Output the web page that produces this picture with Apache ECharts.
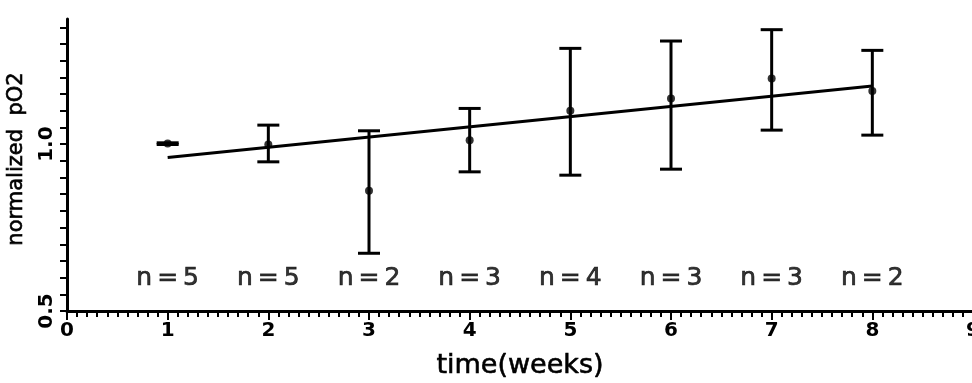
<!DOCTYPE html>
<html>
<head>
<meta charset="utf-8">
<script src="https://cdn.jsdelivr.net/npm/echarts@6/dist/echarts.min.js"></script>
<style>
html,body{margin:0;padding:0;background:#fff;}
#c{width:972px;height:383px;}
</style>
</head>
<body>
<div id="c"></div>
<script>
// ---- data ----
const weeks   = [1, 2, 3, 4, 5, 6, 7, 8];
const means   = [1.002, 0.999, 0.860, 1.012, 1.100, 1.137, 1.197, 1.159];
const upper   = [1.004, 1.057, 1.040, 1.107, 1.287, 1.309, 1.343, 1.281];
const lower   = [0.999, 0.947, 0.673, 0.917, 0.907, 0.925, 1.042, 1.027];
const nLabels = ['n=5', 'n=5', 'n=2', 'n=3', 'n=4', 'n=3', 'n=3', 'n=2'];
const nLabelY = 0.598;
const fitX    = [1, 8];
const fitY    = [0.960, 1.174];
const yLabeled = {0.5: '0.5', 1.0: '1.0'};

const chart = echarts.init(document.getElementById('c'));
const font = 'DejaVu Sans';

const errData = weeks.map((w, i) => [w, lower[i], upper[i]]);
const ptData = weeks.map((w, i) => [w, means[i]]);
const nData = weeks.map((w, i) => [w, nLabelY, nLabels[i]]);
const fitData = fitX.map((x, i) => [x, fitY[i]]);

chart.setOption({
  animation: false,
  backgroundColor: '#fff',
  grid: {left: 67, top: 19, width: 906, height: 292, containLabel: false, outerBoundsMode: 'none'},
  xAxis: {
    type: 'value', min: 0, max: 9, interval: 1,
    axisLine: {show: true, onZero: false, lineStyle: {color: '#000', width: 3}},
    axisTick: {show: true, inside: false, length: 9, lineStyle: {color: '#000', width: 2}},
    minorTick: {show: true, splitNumber: 10, length: 6, lineStyle: {color: '#000', width: 2}},
    splitLine: {show: false},
    axisLabel: {color: '#000', fontFamily: font, fontWeight: 'bold', fontSize: 20, margin: 10, hideOverlap: false},
    name: 'time(weeks)', nameLocation: 'middle', nameGap: 41,
    nameTextStyle: {color: '#000', fontFamily: font, fontSize: 27, textBorderColor: '#000', textBorderWidth: 0.6}
  },
  yAxis: {
    type: 'value', min: 0.5, max: 1.375, interval: 0.05,
    axisLine: {show: true, onZero: false, lineStyle: {color: '#000', width: 3}},
    axisTick: {show: true, inside: false, length: 7, lineStyle: {color: '#000', width: 2}},
    splitLine: {show: false},
    axisLabel: {
      color: '#000', fontFamily: font, fontWeight: 'bold', fontSize: 20, rotate: 90, margin: 10,
      showMaxLabel: false,
      formatter: v => {
        for (const k in yLabeled) { if (Math.abs(v - Number(k)) < 1e-6) return yLabeled[k]; }
        return '';
      }
    },
    name: 'normalized  pO2', nameLocation: 'middle', nameGap: 40, nameRotate: 90,
    nameTextStyle: {color: '#000', fontFamily: font, fontSize: 21, padding: [0, 0, 0, 12],
      textBorderColor: '#000', textBorderWidth: 0.6}
  },
  series: [
    {
      type: 'line', data: fitData, symbol: 'none',
      lineStyle: {color: '#000', width: 3}, z: 3
    },
    {
      type: 'custom', data: errData, z: 4,
      renderItem: (params, api) => {
        const x = api.value(0);
        const lo = api.coord([x, api.value(1)]);
        const hi = api.coord([x, api.value(2)]);
        const hw = 11;
        const style = {stroke: '#000', lineWidth: 3, fill: null};
        return {
          type: 'group',
          children: [
            {type: 'line', shape: {x1: lo[0], y1: lo[1], x2: hi[0], y2: hi[1]}, style},
            {type: 'line', shape: {x1: lo[0] - hw, y1: lo[1], x2: lo[0] + hw, y2: lo[1]}, style},
            {type: 'line', shape: {x1: hi[0] - hw, y1: hi[1], x2: hi[0] + hw, y2: hi[1]}, style}
          ]
        };
      }
    },
    {
      type: 'scatter', data: ptData, symbol: 'circle', symbolSize: 8,
      itemStyle: {color: '#000'}, z: 5
    },
    {
      type: 'scatter', data: nData, symbolSize: 0, z: 6,
      label: {
        show: true, position: 'inside', color: '#000', textBorderColor: '#000', textBorderWidth: 0.7,
        fontFamily: font, fontSize: 25,
        formatter: p => p.value[2].split('').join('\u2009')
      }
    }
  ]
});
</script>
</body>
</html>
